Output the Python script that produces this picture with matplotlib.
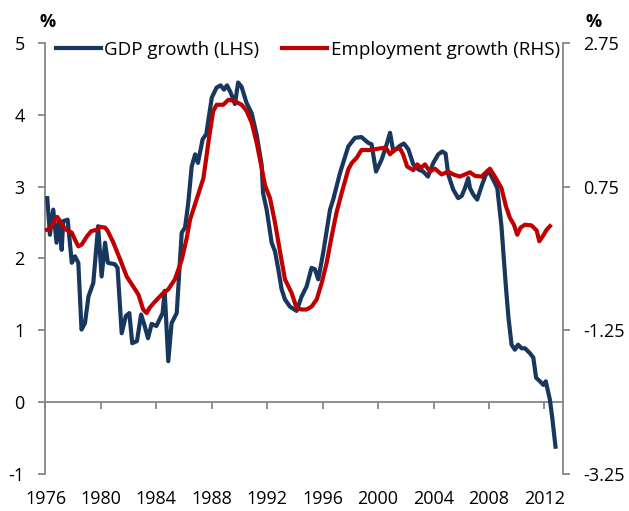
import matplotlib
matplotlib.use('Agg')
import matplotlib.pyplot as plt

# GDP growth, % (left-hand scale)
gdp_year = [1976.13, 1976.32, 1976.56, 1976.8, 1977.0, 1977.17, 1977.28, 1977.6, 1977.9, 1978.13,
            1978.37, 1978.6, 1978.85, 1979.1, 1979.45, 1979.8, 1980.05, 1980.3, 1980.5, 1981.0,
            1981.2, 1981.5, 1981.8, 1982.05, 1982.26, 1982.6, 1982.9, 1983.1, 1983.4, 1983.66,
            1984.0, 1984.45, 1984.6, 1984.86, 1985.1, 1985.47, 1985.83, 1986.07, 1986.3, 1986.55,
            1986.8, 1987.0, 1987.34, 1987.6, 1988.0, 1988.35, 1988.64, 1988.88, 1989.1, 1989.36,
            1989.67, 1989.9, 1990.15, 1990.5, 1990.88, 1991.24, 1991.6, 1991.7, 1991.96, 1992.32,
            1992.56, 1992.8, 1993.04, 1993.28, 1993.64, 1994.12, 1994.48, 1994.84, 1995.2, 1995.44,
            1995.68, 1996.04, 1996.53, 1996.76, 1997.25, 1997.85, 1998.33, 1998.8, 1999.29, 1999.53,
            1999.85, 2000.26, 2000.62, 2000.86, 2001.1, 2001.58, 2001.86, 2002.18, 2002.54, 2002.9,
            2003.26, 2003.6, 2003.98, 2004.34, 2004.63, 2004.87, 2005.06, 2005.42, 2005.78, 2006.03,
            2006.27, 2006.5, 2006.63, 2006.87, 2007.15, 2007.47, 2007.78, 2008.0, 2008.3, 2008.6,
            2008.9, 2009.22, 2009.4, 2009.63, 2009.87, 2010.1, 2010.36, 2010.6, 2010.96, 2011.2,
            2011.4, 2011.68, 2011.92, 2012.1, 2012.4, 2012.58, 2012.8]
gdp_growth = [2.84, 2.33, 2.68, 2.22, 2.54, 2.12, 2.52, 2.54, 1.94, 2.03,
              1.94, 1.01, 1.10, 1.47, 1.66, 2.45, 1.75, 2.22, 1.94, 1.92,
              1.87, 0.96, 1.20, 1.24, 0.82, 0.85, 1.22, 1.10, 0.89, 1.09,
              1.06, 1.24, 1.55, 0.57, 1.10, 1.24, 2.36, 2.43, 2.77, 3.28,
              3.45, 3.33, 3.66, 3.73, 4.24, 4.38, 4.41, 4.35, 4.41, 4.31,
              4.15, 4.45, 4.39, 4.17, 4.02, 3.72, 3.30, 2.91, 2.68, 2.22,
              2.10, 1.85, 1.57, 1.43, 1.33, 1.27, 1.47, 1.61, 1.87, 1.85,
              1.71, 2.08, 2.68, 2.82, 3.19, 3.56, 3.68, 3.69, 3.61, 3.59,
              3.21, 3.38, 3.59, 3.75, 3.49, 3.57, 3.60, 3.52, 3.31, 3.24,
              3.21, 3.14, 3.33, 3.45, 3.49, 3.46, 3.17, 2.96, 2.84, 2.87,
              2.98, 3.12, 2.98, 2.89, 2.82, 3.01, 3.17, 3.21, 3.10, 2.98,
              2.45, 1.61, 1.19, 0.80, 0.73, 0.80, 0.75, 0.75, 0.68, 0.62,
              0.34, 0.29, 0.24, 0.29, 0.03, -0.24, -0.62]

# Employment growth, % (right-hand scale)
emp_year = [1976.1, 1976.3, 1976.56, 1976.85, 1977.17, 1977.5, 1977.9, 1978.13, 1978.37, 1978.6,
            1979.0, 1979.3, 1979.7, 1979.93, 1980.3, 1980.5, 1980.9, 1981.4, 1981.86, 1982.33,
            1982.7, 1983.05, 1983.3, 1983.5, 1983.9, 1984.4, 1984.86, 1985.34, 1985.83, 1986.2,
            1986.43, 1986.9, 1987.4, 1987.75, 1988.1, 1988.35, 1988.83, 1989.2, 1989.67, 1990.15,
            1990.5, 1990.88, 1991.24, 1991.6, 1991.84, 1992.2, 1992.56, 1992.92, 1993.28, 1993.76,
            1994.12, 1994.48, 1994.84, 1995.2, 1995.57, 1995.93, 1996.29, 1996.65, 1997.0, 1997.37,
            1997.85, 1998.1, 1998.45, 1998.8, 1999.3, 1999.77, 2000.37, 2000.6, 2000.86, 2001.2,
            2001.58, 2001.8, 2002.1, 2002.54, 2002.83, 2003.1, 2003.38, 2003.74, 2004.1, 2004.58,
            2005.06, 2005.42, 2005.9, 2006.27, 2006.63, 2006.99, 2007.47, 2007.78, 2008.07, 2008.43,
            2008.9, 2009.22, 2009.5, 2009.8, 2010.04, 2010.28, 2010.6, 2011.07, 2011.44, 2011.63,
            2011.92, 2012.16, 2012.4]
emp_growth = [0.15, 0.16, 0.25, 0.33, 0.22, 0.15, 0.11, 0.01, -0.08, -0.06,
              0.06, 0.13, 0.15, 0.19, 0.18, 0.13, -0.03, -0.27, -0.50, -0.64,
              -0.75, -0.96, -1.01, -0.94, -0.85, -0.75, -0.68, -0.54, -0.27, 0.04,
              0.29, 0.57, 0.87, 1.36, 1.80, 1.89, 1.89, 1.96, 1.94, 1.89,
              1.81, 1.64, 1.36, 1.01, 0.77, 0.59, 0.25, -0.15, -0.54, -0.73,
              -0.94, -0.96, -0.96, -0.92, -0.82, -0.59, -0.31, 0.06, 0.39, 0.66,
              0.99, 1.08, 1.15, 1.26, 1.26, 1.27, 1.29, 1.28, 1.20, 1.27,
              1.28, 1.20, 1.03, 0.98, 1.06, 1.01, 1.06, 0.96, 1.00, 0.92,
              0.96, 0.92, 0.89, 0.92, 0.95, 0.90, 0.89, 0.95, 1.00, 0.89,
              0.73, 0.48, 0.32, 0.22, 0.08, 0.18, 0.22, 0.21, 0.14, -0.01,
              0.07, 0.15, 0.20]

year_ticks = list(range(1976, 2013, 4))
left_ticks = [-1, 0, 1, 2, 3, 4, 5]
right_ticks = [-3.25, -1.25, 0.75, 2.75]

plt.rcParams['font.family'] = ['Open Sans', 'DejaVu Sans']
navy = '#17375E'
red = '#C00000'
grey = '#868686'

fig = plt.figure(figsize=(6.29, 5.11), dpi=100)
ax = fig.add_axes([0.0723, 0.0724, 0.8223, 0.8435])
ax2 = ax.twinx()

l1, = ax.plot(gdp_year, gdp_growth, color=navy, lw=3.0, solid_joinstyle='round',
              label='GDP growth (LHS)', zorder=3)
l2, = ax2.plot(emp_year, emp_growth, color=red, lw=3.0, solid_joinstyle='round',
               label='Employment growth (RHS)', zorder=4)

ax.set_xlim(1976, 2013.32)
ax.set_ylim(-1, 5)
ax2.set_ylim(-3.25, 2.75)
ax.set_yticks(left_ticks)
ax.set_yticklabels([str(t) for t in left_ticks])
ax2.set_yticks(right_ticks)
ax2.set_yticklabels([f'{t:g}' for t in right_ticks])
ax.set_xticks(year_ticks)
ax.set_xticklabels([str(y) for y in year_ticks])

for a in (ax, ax2):
    a.spines['top'].set_visible(False)
    for s in ('left', 'right', 'bottom'):
        a.spines[s].set_color(grey)
        a.spines[s].set_linewidth(1.3)
ax2.spines['bottom'].set_visible(False)
ax.spines['right'].set_visible(False)
ax2.spines['left'].set_visible(False)
ax.spines['bottom'].set_position(('data', 0))

ax.tick_params(axis='y', direction='out', length=5, width=1.3, color=grey,
               labelsize=13, pad=10)
ax2.tick_params(axis='y', direction='out', length=5, width=1.3, color=grey,
                labelsize=13, pad=10)
ax.tick_params(axis='x', direction='out', length=5, width=1.3, color=grey,
               labelsize=13, pad=58)

fig.text(0.075, 0.957, '%', fontsize=13, fontweight='bold', ha='center', va='center')
fig.text(0.943, 0.957, '%', fontsize=13, fontweight='bold', ha='center', va='center')

ax.legend(handles=[l1, l2], loc='upper left', bbox_to_anchor=(0.005, 1.022), ncol=2,
          frameon=False, fontsize=13.5, handlelength=2.4, handletextpad=0.2,
          columnspacing=1.2, borderaxespad=0)

fig.savefig('out.png', dpi=100)
